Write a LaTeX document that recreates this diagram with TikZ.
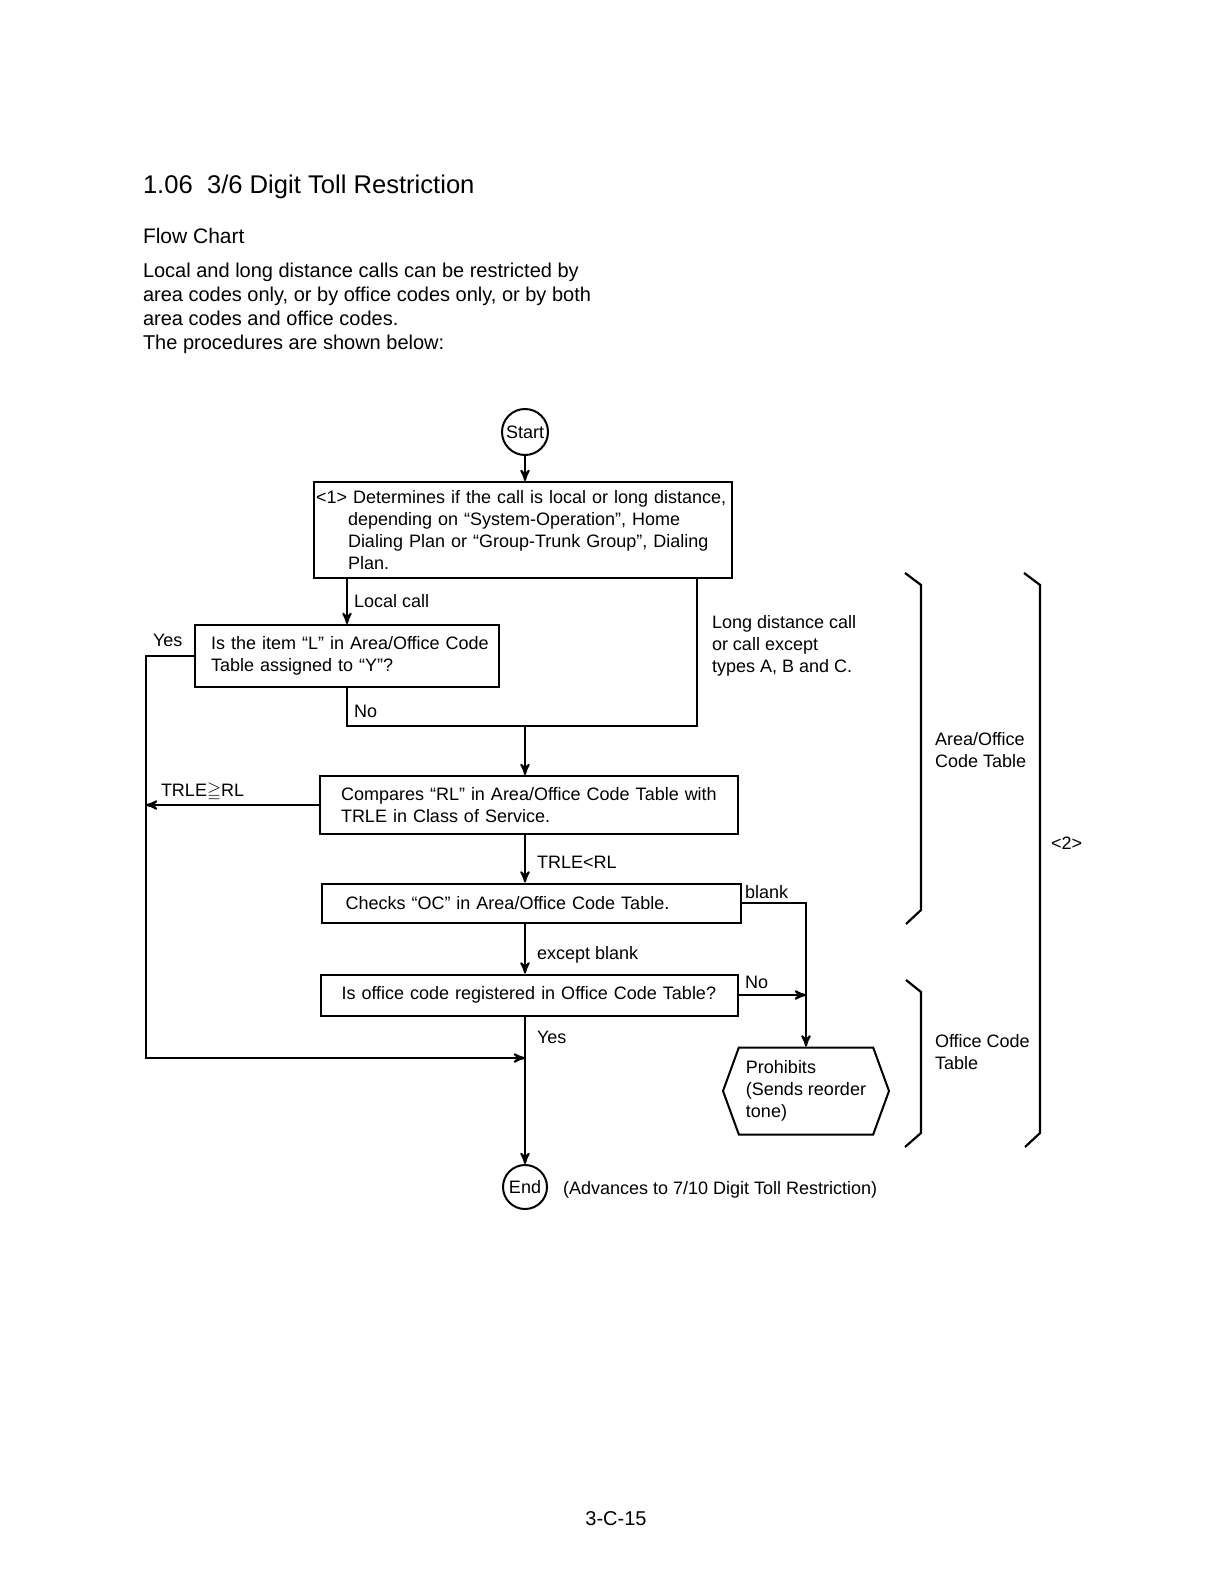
\documentclass[tikz,border=0pt]{standalone}
\usepackage{fontspec}
\usepackage{amssymb}
\setmainfont{Liberation Sans}
\usetikzlibrary{arrows,shapes.symbols}

\begin{document}
\begin{tikzpicture}[x=0.5pt,y=-0.5pt,
        %Option for nice arrows%
        >=stealth',%
        line width=1pt,%
        every node/.style={font=\fontsize{9}{11}\selectfont},%
        box/.style={draw, align=left, inner ysep=0pt},%
        terminal/.style={draw, circle, minimum size=23pt, inner sep=0pt},%
        lbl/.style={anchor=west, align=left, inner sep=0pt},%
        bracket/.style={line width=1.1pt}%
    ]
    \useasboundingbox (0,0) rectangle (1222,1584);
    %% heading and text
    \node[lbl, font=\fontsize{12.8}{15}\selectfont] (title) at (142,187) {1.06\ \ 3/6 Digit Toll Restriction};
    \node[lbl, font=\fontsize{10.5}{12}\selectfont] (fc) at (142,236) {Flow Chart};
    \node[lbl, font=\fontsize{10}{12}\selectfont] (intro) at (142,308)
        {Local and long distance calls can be restricted by\\
         area codes only, or by office codes only, or by both\\
         area codes and office codes.\\
         The procedures are shown below:};
    %% flow chart
    \node[terminal] (start) at (525,432) {Start};
    \node[box, text width=207pt, inner xsep=1pt, minimum height=48pt] (det) at (523,530)
        {<1> Determines if the call is local or long distance,\\
         \hspace*{16pt}depending on “System-Operation”, Home\\
         \hspace*{16pt}Dialing Plan or “Group-Trunk Group”, Dialing\\
         \hspace*{16pt}Plan.};
    \node[box, text width=136pt, inner xsep=8pt, minimum height=31pt] (litem) at (347,656)
        {\mbox{Is the item “L” in Area/Office Code}\\Table assigned to “Y”?};
    \node[box, text width=188pt, inner xsep=10.5pt, minimum height=29pt] (cmp) at (529,805)
        {\mbox{Compares “RL” in Area/Office Code Table with}\\TRLE in Class of Service.};
    \node[box, text width=185.5pt, inner xsep=12pt, minimum height=19.5pt] (chk) at (531,903)
        {Checks “OC” in Area/Office Code Table.};
    \node[box, text width=187.5pt, inner xsep=10.5pt, minimum height=20.5pt] (reg) at (529,995)
        {\mbox{Is office code registered in Office Code Table?}};
    \node[draw, signal, signal to=east and west, signal pointer angle=140,
          minimum width=83pt, minimum height=43.5pt, inner sep=0pt, align=left] (proh) at (806,1091)
        {Prohibits\\(Sends reorder\\tone)};
    \node[terminal, minimum size=22pt] (end) at (525,1187) {End};
    %% turning points
    \coordinate (ldc) at (697,726);
    \coordinate (join) at (525,726);
    \coordinate (ycorner) at (146,1058);
    \coordinate (merge) at (525,1058);
    %% connectors
    \draw[->] (start) -- (start |- det.north);
    \draw[->] (det.south -| litem.north) -- (litem.north);
    \draw (litem.south) |- (ldc) -- (ldc |- det.south);
    \draw[->] (join) -- (join |- cmp.north);
    \draw[->] (litem.west) -| (ycorner) -- (merge);
    \draw[->] (cmp.west) -- (cmp.west -| ycorner);
    \draw[->] (cmp.south -| join) -- (join |- chk.north);
    \draw[->] (chk.south -| join) -- (join |- reg.north);
    \draw[->] (reg.south -| join) -- (join |- end.north);
    \draw[->] (chk.east) -| (proh.north);
    \draw[->] (reg.east) -- (reg.east -| proh.north);
    %% labels
    \node[lbl] (lclab) at (353,601) {Local call};
    \node[lbl] (ldlab) at (711,646) {Long distance call\\or call except\\types A, B and C.};
    \node[lbl] (yes1) at (152,640) {Yes};
    \node[lbl] (no1) at (353,711) {No};
    \node[lbl] (gelab) at (160,792) {TRLE$\geqq$RL};
    \node[lbl] (ltlab) at (536,862) {TRLE<RL};
    \node[lbl] (blab) at (744,892) {blank};
    \node[lbl] (eblab) at (536,955) {except blank};
    \node[lbl] (no2) at (744,982) {No};
    \node[lbl] (yes2) at (536,1037) {Yes};
    \node[lbl] (adv) at (562,1190) {(Advances to 7/10 Digit Toll Restriction)};
    %% brackets
    \draw[bracket] (905,573) -- (921,585) -- (921,910) -- (906,924);
    \draw[bracket] (906,980) -- (921,992) -- (921,1133) -- (905,1147);
    \draw[bracket] (1024,573) -- (1040,585) -- (1040,1133) -- (1025,1147);
    \node[lbl] (aoct) at (934,750) {Area/Office\\Code Table};
    \node[lbl] (oct) at (934,1052) {Office Code\\Table};
    \node[lbl] (two) at (1050,843) {<2>};
    \node[font=\fontsize{10}{12}\selectfont] (page) at (616,1519) {3-C-15};
\end{tikzpicture}
\end{document}
